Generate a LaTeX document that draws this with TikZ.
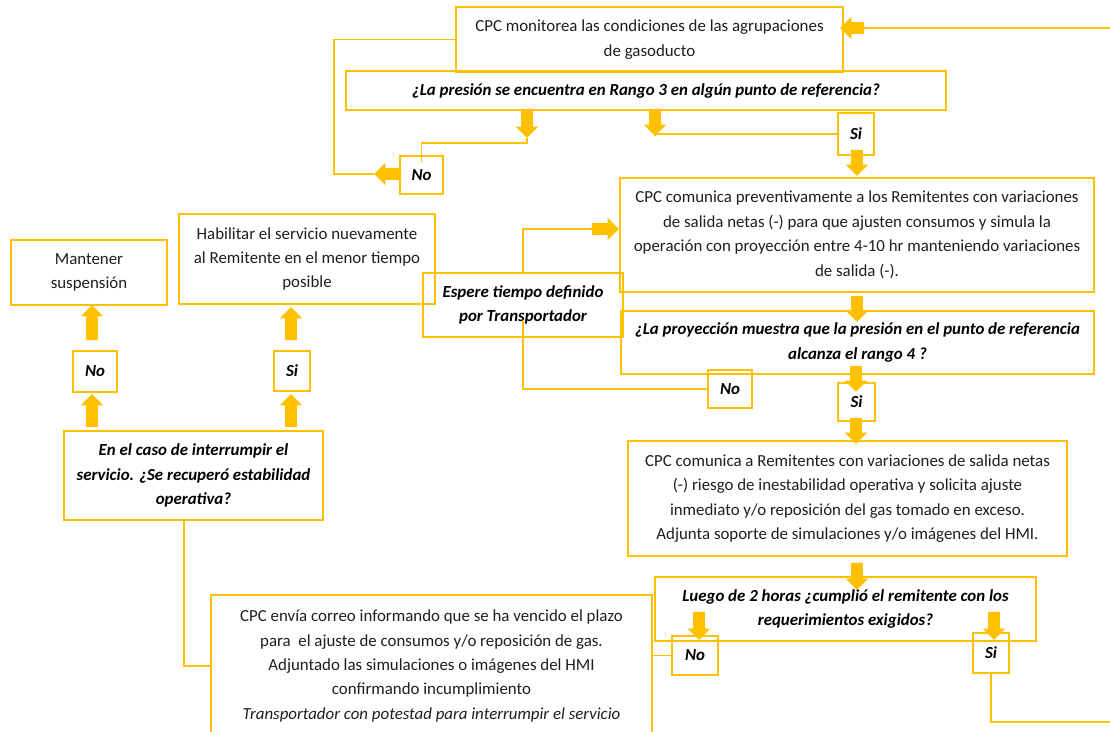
\documentclass[tikz,border=0pt]{standalone}
\usepackage{fontspec}
\setmainfont{Carlito}
\usetikzlibrary{shapes.arrows}
\definecolor{gold}{RGB}{255,192,0}
\definecolor{txt}{RGB}{30,30,30}
\tikzset{
  box/.style={draw=gold,line width=1pt,align=center,inner sep=0pt,text=txt,
    font=\fontsize{12}{17.4}\selectfont},
  ask/.style={box,text=black,font=\fontsize{12}{17.4}\selectfont\bfseries\itshape},
  sz/.style 2 args={minimum width=#1*0.025cm,minimum height=#2*0.025cm},
  ln/.style={gold,line width=1.3pt},
  barrow/.style={single arrow,fill=gold,draw=none,inner sep=0.1375cm,
    single arrow head extend=0.1375cm,anchor=center}
}
\begin{document}
\begin{tikzpicture}[x=0.025cm,y=-0.025cm]
\useasboundingbox (0,0) rectangle (1110,731);
\clip (0,0) rectangle (1110,731);
\node[box,sz={387}{65}] (mon) at (649.5,39.5) {CPC monitorea las condiciones de las agrupaciones\\de gasoducto};
\node[ask,sz={600}{39}] (rg3) at (646,90.5) {¿La presión se encuentra en Rango 3 en algún punto de referencia?};
\node[ask,sz={43}{38}] (noT) at (421.5,175) {No};
\node[ask,sz={36}{42}] (siT) at (856,134) {Si};
\node[box,sz={474}{114}] (prev) at (857,235) {CPC comunica preventivamente a los Remitentes con variaciones\\de salida netas (-) para que ajusten consumos y simula la\\operación con proyección entre 4-10 hr manteniendo variaciones\\de salida (-).};
\node[ask,sz={473}{63}] (proy) at (857.5,342.5) {¿La proyección muestra que la presión en el punto de referencia\\alcanza el rango 4 ?};
\node[ask,sz={200}{64}] (esp) at (523,305) {Espere tiempo definido\\por Transportador};
\node[ask,sz={44}{38}] (noM) at (730,389) {No};
\node[ask,sz={37}{38}] (siM) at (856.5,402) {Si};
\node[box,sz={439}{115}] (riesgo) at (847.5,498.5) {CPC comunica a Remitentes con variaciones de salida netas\\(-) riesgo de inestabilidad operativa y solicita ajuste\\inmediato y/o reposición del gas tomado en exceso.\\Adjunta soporte de simulaciones y/o imágenes del HMI.};
\node[ask,sz={381}{64}] (dos) at (845.5,609) {Luego de 2 horas ¿cumplió el remitente con los\\requerimientos exigidos?};
\node[ask,sz={46}{39}] (noB) at (695,655.5) {No};
\node[ask,sz={36}{40}] (siB) at (991,653) {Si};
\node[box,sz={441}{142}] (mail) at (431.5,666) {CPC envía correo informando que se ha vencido el plazo\\para\ \ el ajuste de consumos y/o reposición de gas.\\Adjuntado las simulaciones o imágenes del HMI\\confirmando incumplimiento\\\textit{Transportador con potestad para interrumpir el servicio}};
\node[ask,sz={259}{89}] (rec) at (193.5,475.5) {En el caso de interrumpir el\\servicio. ¿Se recuperó estabilidad\\operativa?};
\node[ask,sz={44}{41}] (noL) at (95,371.5) {No};
\node[ask,sz={36}{40}] (siL) at (292,371) {Si};
\node[box,sz={156}{65}] (mant) at (89,272.5) {Mantener\\suspensión};
\node[box,sz={256}{90}] (hab) at (307,259) {Habilitar el servicio nuevamente\\al Remitente en el menor tiempo\\posible};
\coordinate (rin) at (1110,28);
\coordinate (rout) at (1110,722);
\foreach \n/\x/\y/\r/\l in {a1/855/28/180/24, a2/527/121.5/-90/27, a3/655/120/-90/26,
  a4/857/160/-90/26, a5/390.5/174/180/27, a6/602.5/229/0/27, a7/857/306/-90/26,
  a8/856/376/-90/26, a9/856/428/-90/26, a10/857/573.5/-90/27, a11/699/623/-90/28,
  a12/994/623/-90/28, a13/92/413.5/90/33, a14/92/325.5/90/35, a15/291/413.5/90/33,
  a16/291/326.5/90/33}
  \node[barrow,rotate=\r,minimum height=\l*0.025cm] (\n) at (\x,\y) {};
\draw[ln] (rin) -- (a1.tail);
\draw[ln] (mon.west) -- ++(-121,0) |- (a5.tip);
\draw[ln] (a2.tip) -- ++(0,5) -| ([yshift=-0.175cm]noT.north);
\draw[ln] (a3.tip) |- (siT.west);
\draw[ln] (esp.north) |- (a6.tail);
\draw[ln] (noM.west) -| ([yshift=0.425cm]esp.south);
\draw[ln] (noB.west) -- (noB.west -| mail.east);
\draw[ln] (mail.west) -| ([xshift=-0.2375cm]rec.south);
\draw[ln] (siB.south) |- (rout);
\end{tikzpicture}
\end{document}
